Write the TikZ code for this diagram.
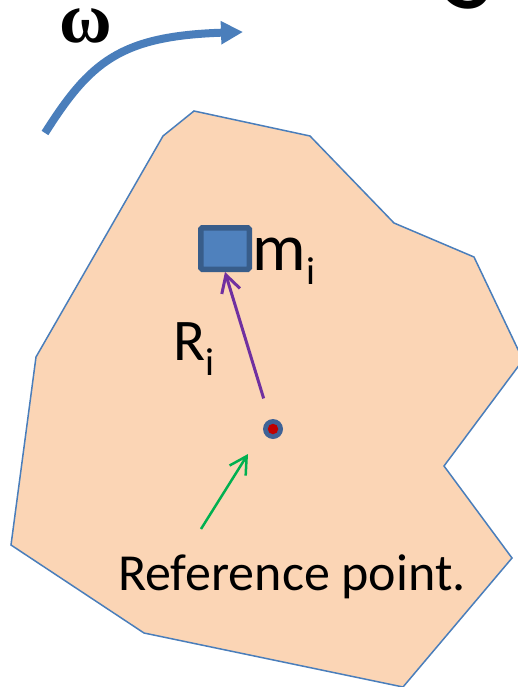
\documentclass[tikz,border=0pt]{standalone}
\usepackage{fontspec}
\setmainfont{Carlito}
\newfontfamily\omegafont{Liberation Serif}
\usetikzlibrary{arrows.meta}
\definecolor{bodyfill}{HTML}{FBD5B5}
\definecolor{bodyline}{HTML}{4A7EBB}
\definecolor{massfill}{HTML}{4F81BD}
\definecolor{massline}{HTML}{385D8A}
\definecolor{dotblue}{HTML}{3F6296}
\definecolor{dotred}{HTML}{C00000}
\definecolor{rvec}{HTML}{7030A0}
\definecolor{refgreen}{HTML}{00B050}
\tikzset{
  bodyshape/.style={fill=bodyfill, draw=bodyline, line width=1.5pt},
  massbox/.style={rectangle, fill=massfill, draw=massline, line width=5.5pt, rounded corners=1.5pt, inner sep=0pt, minimum width=48.5pt, minimum height=41.5pt},
  labeltext/.style={inner sep=0pt, text=black},
  vecarrow/.style={line width=3pt, -{Straight Barb[length=17pt,width=19pt]}},
  omegaarrow/.style={draw=bodyline, line width=8pt, -{Triangle[length=22pt,width=22pt]}},
}
\begin{document}
\begin{tikzpicture}[x=1pt,y=-1pt]
\useasboundingbox (0,0) rectangle (518,687);
\clip (0,0) rectangle (518,687);
% rigid body
\draw[bodyshape] (194,111) -- (310,136) -- (394,223) -- (474,257) -- (523,360) -- (444,466) -- (512,558) -- (403,687) -- (144,633) -- (11,545) -- (36,357) -- (163,136) -- cycle;
% title fragment
\node[labeltext, anchor=base west, font=\fontsize{108}{108}\selectfont] (title) at (444,9) {S};
% omega
\node[labeltext, anchor=base, text height=33pt, text depth=0pt, font=\omegafont\bfseries\fontsize{72}{72}\selectfont] (omega) at (86,43) {ω};
\coordinate (omtail) at (45,133);
\coordinate (omtip) at (243,32);
\draw[omegaarrow] (omtail) .. controls (90,62) and (120,36) .. (omtip);
% mass
\node[massbox] (mass) at (225,248.5) {};
\node[labeltext, anchor=base west] (mlabel) at (252.5,270) {\fontsize{67}{67}\selectfont m\raisebox{-14pt}{\fontsize{39}{39}\selectfont i}};
% reference point
\node[circle, fill=dotblue, minimum size=20pt, inner sep=0pt] (refpt) at (273,429) {};
\node[circle, fill=dotred, minimum size=10.5pt, inner sep=0pt] (refcore) at (refpt.center) {};
% R_i vector
\draw[vecarrow, draw=rvec, shorten <=32pt] (refpt.center) -- (mass.south);
\node[labeltext, anchor=base west] (rlabel) at (173.5,360) {\fontsize{59}{59}\selectfont R\raisebox{-15pt}{\fontsize{39}{39}\selectfont i}};
% reference label
\node[labeltext, anchor=base west, font=\fontsize{52}{60}\selectfont] (reftext) at (118,590) {Reference point.};
\coordinate (gtail) at (201,529);
\coordinate (gtip) at (248,454);
\draw[vecarrow, draw=refgreen, line width=2.5pt] (gtail) -- (gtip);
\end{tikzpicture}
\end{document}
